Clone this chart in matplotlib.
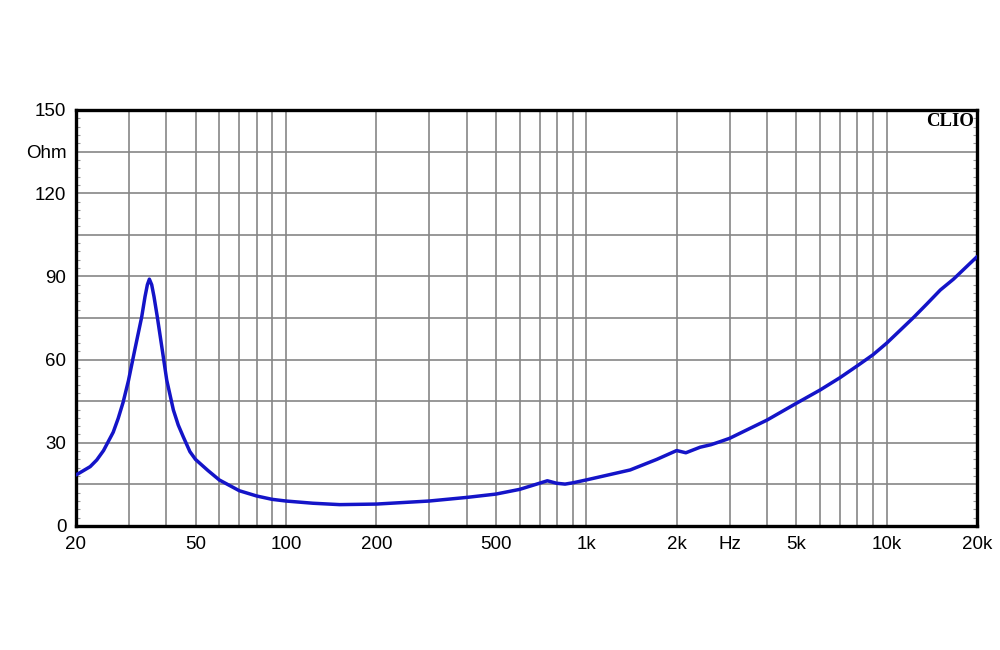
"""Loudspeaker impedance curve (CLIO style) recreated with matplotlib."""

import matplotlib

matplotlib.use("Agg")
import matplotlib.pyplot as plt

# Impedance magnitude (Hz, Ohm)
freq_hz = [
    20, 20.9, 22.3, 23.45, 24.7, 26.6, 27.64, 28.7, 29.9, 31.4, 33.1, 33.95,
    34.57, 35.1, 35.73, 36.37, 37.3, 38.6, 40.1, 42.2, 43.8, 45.5, 47.9, 50,
    55, 60, 70, 80, 90, 100, 123, 151, 200, 300, 400, 500, 600, 684, 742,
    797, 850, 906, 1000, 1140, 1400, 1716, 2000, 2146, 2394, 2600, 2789,
    3000, 4000, 5000, 6000, 7000, 8000, 9000, 10000, 11080, 12300, 13600,
    15100, 16700, 20000,
]
impedance_ohm = [
    18.4, 19.6, 21.4, 23.8, 27.2, 33.8, 38.8, 44.6, 52.4, 63.6, 75.4, 82.7,
    87.0, 89.0, 87.0, 82.7, 75.4, 64.7, 52.6, 41.8, 36.4, 32.2, 26.8, 24.0,
    20.0, 16.6, 12.7, 10.8, 9.6, 9.0, 8.2, 7.7, 7.9, 9.0, 10.3, 11.5, 13.2,
    15.1, 16.3, 15.4, 15.1, 15.6, 16.6, 18.0, 20.2, 24.0, 27.2, 26.4, 28.4,
    29.3, 30.4, 31.6, 38.2, 44.2, 49.0, 53.5, 57.8, 61.7, 65.9, 70.5, 75.2,
    80.0, 85.1, 89.0, 97.1,
]

# Axis labelling
x_label_pos = [20, 50, 100, 200, 500, 1000, 2000, 3000, 5000, 10000, 20000]
x_label_txt = ["20", "50", "100", "200", "500", "1k", "2k", "Hz", "5k", "10k", "20k"]
x_grid_pos = [30, 40, 60, 70, 80, 90, 300, 400, 600, 700, 800, 900,
              4000, 6000, 7000, 8000, 9000]
y_grid_pos = [0, 15, 30, 45, 60, 75, 90, 105, 120, 135, 150]
y_label_txt = ["0", "", "30", "", "60", "", "90", "", "120", "Ohm", "150"]

plt.rcParams["font.family"] = ["Liberation Sans", "DejaVu Sans"]

fig = plt.figure(figsize=(10, 6.5), dpi=100, facecolor="white")
ax = fig.add_axes([0.076, 0.1908, 0.901, 0.64])

ax.plot(freq_hz, impedance_ohm, color="#1414c8", linewidth=2.5, zorder=3,
        solid_joinstyle="round", solid_capstyle="round")

ax.set_xscale("log")
ax.set_xlim(20, 20000)
ax.set_ylim(0, 150)

# x: labelled gridlines on major ticks, the rest on minor ticks
ax.set_xticks(x_label_pos, x_label_txt)
ax.set_xticks(x_grid_pos, minor=True)
ax.xaxis.set_minor_formatter(plt.NullFormatter())
ax.tick_params(axis="x", which="both", length=0, pad=7, labelsize=13.5)
ax.grid(axis="x", which="both", color="#868686", linewidth=1.2)

# y: gridlines every 15 Ohm, small inward ticks every 3 Ohm
ax.set_yticks(y_grid_pos, y_label_txt)
ax.set_yticks(range(0, 151, 3), minor=True)
ax.tick_params(axis="y", which="major", length=0, pad=7, labelsize=13.5)
ax.tick_params(axis="y", which="minor", direction="in", length=3,
               width=0.8, color="#999999", left=True, right=True)
ax.grid(axis="y", which="major", color="#868686", linewidth=1.2)

for side in ["left", "bottom", "right", "top"]:
    ax.spines[side].set_color("black")
    ax.spines[side].set_linewidth(2.4)

ax.text(0.997, 0.992, "CLIO", transform=ax.transAxes, ha="right", va="top",
        fontsize=13.5, fontweight="bold", family="Liberation Serif", zorder=4)

fig.savefig("out.png", dpi=100, facecolor="white")
